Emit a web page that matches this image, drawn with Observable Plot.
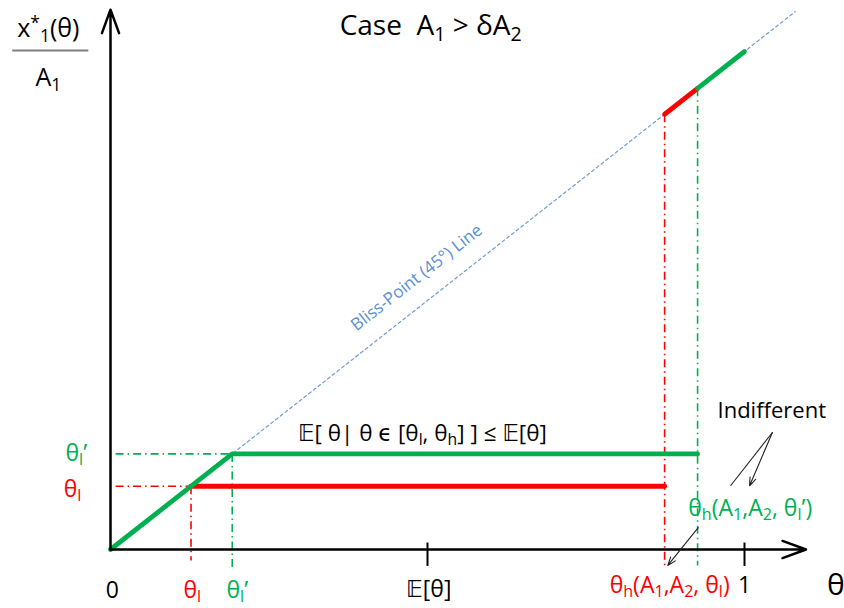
<!DOCTYPE html>
<html><head><meta charset="utf-8">
<script src="https://cdn.jsdelivr.net/npm/d3@7"></script>
<script src="https://cdn.jsdelivr.net/npm/@observablehq/plot@0.6"></script>
<style>body{margin:0;background:#fff}#chart{position:absolute;left:0;top:0}</style>
</head><body><div id="chart"></div>
<script>
// ---- key values (θ units; the 45° line is y = x) ----
const thetaL = 0.127;        // θl
const thetaLp = 0.192;       // θl'
const thetaHl = 0.874;       // θh(A1,A2,θl)
const thetaHlp = 0.926;      // θh(A1,A2,θl')
const expTheta = 0.5;        // E[θ]
const tickValues = [expTheta, 1];

// thick solution paths
const greenPathX = [0, thetaLp, thetaHlp];
const greenPathY = [0, thetaLp, thetaLp];
const redPathX = [thetaL, thetaHl];
const redPathY = [thetaL, thetaL];
const redBlissX = [thetaHl, thetaHlp];
const greenBlissX = [thetaHlp, 1];
const blissX = [0, 1.08];

// axis extents
const xAxisEnd = 1.097, yAxisEnd = 1.084;

// x-axis tick labels
const xLabelText = ["0", "θ_{l}", "θ_{l}’", "𝔼[θ]", "θ_{h}(A_{1},A_{2}, θ_{l})", "1"];
const xLabelX = [0.003, 0.129, 0.2, 0.502, 0.882, 1.0];
const xLabelY = [-0.082, -0.082, -0.082, -0.08, -0.072, -0.072];
const xLabelColor = ["#000", "#ff0000", "#00b050", "#000", "#ff0000", "#000"];

// y-axis labels
const yLabelText = ["θ_{l}’", "θ_{l}"];
const yLabelX = [-0.054, -0.06];
const yLabelY = [0.193, 0.12];
const yLabelColor = ["#00b050", "#ff0000"];

const green = "#00b050", red = "#ff0000";

const pts = (xs, ys) => xs.map((x, i) => ({x, y: ys[i]}));
const labels = (t, xs, ys, c) => t.map((s, i) => ({text: s, x: xs[i], y: ys[i], c: c[i]}));

const dashDot = "8,4,1.5,4";

const chart = Plot.plot({
  width: 844, height: 608, margin: 0,
  x: {domain: [0, 1], range: [110, 744], axis: null},
  y: {domain: [0, 1], range: [549, 51], axis: null},
  style: {fontFamily: "'Open Sans','DejaVu Sans',sans-serif", background: "#fff"},
  marks: [
    // bliss point line
    Plot.line(pts(blissX, blissX), {x: "x", y: "y", stroke: "#6f9bd8", strokeWidth: 1.2, strokeDasharray: "3,3"}),
    // dash-dot guides
    Plot.link([{x1: 0.008, y1: thetaL, x2: thetaL, y2: thetaL}], {x1: "x1", y1: "y1", x2: "x2", y2: "y2", stroke: red, strokeWidth: 1.6, strokeDasharray: dashDot}),
    Plot.link([{x1: 0.008, y1: thetaLp, x2: thetaLp, y2: thetaLp}], {x1: "x1", y1: "y1", x2: "x2", y2: "y2", stroke: green, strokeWidth: 1.6, strokeDasharray: dashDot}),
    Plot.link([{x1: thetaL, y1: thetaL, x2: thetaL, y2: -0.022}], {x1: "x1", y1: "y1", x2: "x2", y2: "y2", stroke: red, strokeWidth: 1.6, strokeDasharray: dashDot}),
    Plot.link([{x1: thetaLp, y1: thetaLp, x2: thetaLp, y2: -0.036}], {x1: "x1", y1: "y1", x2: "x2", y2: "y2", stroke: green, strokeWidth: 1.6, strokeDasharray: dashDot}),
    Plot.link([{x1: thetaHl, y1: thetaHl, x2: thetaHl, y2: -0.036}], {x1: "x1", y1: "y1", x2: "x2", y2: "y2", stroke: red, strokeWidth: 1.6, strokeDasharray: dashDot}),
    Plot.link([{x1: thetaHlp, y1: thetaHlp, x2: thetaHlp, y2: -0.032}], {x1: "x1", y1: "y1", x2: "x2", y2: "y2", stroke: green, strokeWidth: 1.6, strokeDasharray: dashDot}),
    // thick solution paths
    Plot.line(pts(redPathX, redPathY), {x: "x", y: "y", stroke: red, strokeWidth: 4.8}),
    Plot.line(pts(greenPathX, greenPathY), {x: "x", y: "y", stroke: green, strokeWidth: 4.8, strokeLinejoin: "miter"}),
    Plot.line(pts(redBlissX, redBlissX), {x: "x", y: "y", stroke: red, strokeWidth: 4.8}),
    Plot.line(pts(greenBlissX, greenBlissX), {x: "x", y: "y", stroke: green, strokeWidth: 4.8}),
    // axes
    Plot.arrow([{x1: 0, y1: 0, x2: xAxisEnd, y2: 0}, {x1: 0, y1: 0, x2: 0, y2: yAxisEnd}], {x1: "x1", y1: "y1", x2: "x2", y2: "y2", stroke: "#000", strokeWidth: 2.5, headLength: 15, headAngle: 40}),
    Plot.ruleX(tickValues, {y1: 0.013, y2: -0.034, stroke: "#000", strokeWidth: 2}),
    // annotation arrows
    Plot.link([{x1: 1.044, y1: 0.235, x2: 0.978, y2: 0.128}], {x1: "x1", y1: "y1", x2: "x2", y2: "y2", stroke: "#222", strokeWidth: 1.1}),
    Plot.arrow([{x1: 1.044, y1: 0.235, x2: 1.008, y2: 0.128}, {x1: 0.927, y1: 0.044, x2: 0.879, y2: -0.032}], {x1: "x1", y1: "y1", x2: "x2", y2: "y2", stroke: "#222", strokeWidth: 1.1, headLength: 12, headAngle: 40}),
    // fraction bar of y-axis label
    Plot.link([{x1: -0.155, y1: 1.002, x2: -0.035, y2: 1.002}], {x1: "x1", y1: "y1", x2: "x2", y2: "y2", stroke: "#7f7f7f", strokeWidth: 2}),
    // texts
    Plot.text([{t: "x^{*}_{1}(θ)", x: -0.098, y: 1.046}, {t: "A_{1}", x: -0.098, y: 0.946}], {x: "x", y: "y", text: "t", fontSize: 25, fill: "#000"}),
    Plot.text([{t: "Case  A_{1} > δA_{2}", x: 0.505, y: 1.052}], {x: "x", y: "y", text: "t", fontSize: 28, fill: "#000"}),
    Plot.text(labels(xLabelText, xLabelX, xLabelY, xLabelColor), {x: "x", y: "y", text: "text", fill: "c", fontSize: 23}),
    Plot.text([{t: "θ", x: 1.144, y: -0.072}], {x: "x", y: "y", text: "t", fontSize: 30, fill: "#000"}),
    Plot.text(labels(yLabelText, yLabelX, yLabelY, yLabelColor), {x: "x", y: "y", text: "text", fill: "c", fontSize: 23}),
    Plot.text([{t: "Indifferent", x: 1.043, y: 0.279}], {x: "x", y: "y", text: "t", fontSize: 22, fill: "#000"}),
    Plot.text([{t: "θ_{h}(A_{1},A_{2}, θ_{l}’)", x: 1.009, y: 0.082}], {x: "x", y: "y", text: "t", fontSize: 23, fill: green}),
    Plot.text([{t: "𝔼[ θ| θ ϵ [θ_{l}, θ_{h}] ] ≤ 𝔼[θ]", x: 0.492, y: 0.233}], {x: "x", y: "y", text: "t", fontSize: 22.5, fill: "#000"}),
    Plot.text([{t: "Bliss-Point (45°) Line", x: 0.483, y: 0.546}], {x: "x", y: "y", text: "t", fontSize: 17, fill: "#5b8fd6", rotate: -38})
  ]
});

// sub/superscript markup -> tspans
chart.querySelectorAll("text").forEach(t => {
  const s = t.textContent;
  if (!/[_^]\{/.test(s)) return;
  while (t.firstChild) t.removeChild(t.firstChild);
  const re = /([_^])\{([^}]*)\}/g;
  let last = 0, m;
  const ns = "http://www.w3.org/2000/svg";
  const add = (str, kind) => {
    if (!str) return;
    const sp = document.createElementNS(ns, "tspan");
    sp.textContent = str;
    if (kind) {
      sp.setAttribute("font-size", "70%");
      sp.setAttribute("baseline-shift", kind === "_" ? "-28%" : "45%");
    }
    t.appendChild(sp);
  };
  while ((m = re.exec(s))) {
    add(s.slice(last, m.index));
    add(m[2], m[1]);
    last = re.lastIndex;
  }
  add(s.slice(last));
});

document.getElementById("chart").appendChild(chart);
</script></body></html>
